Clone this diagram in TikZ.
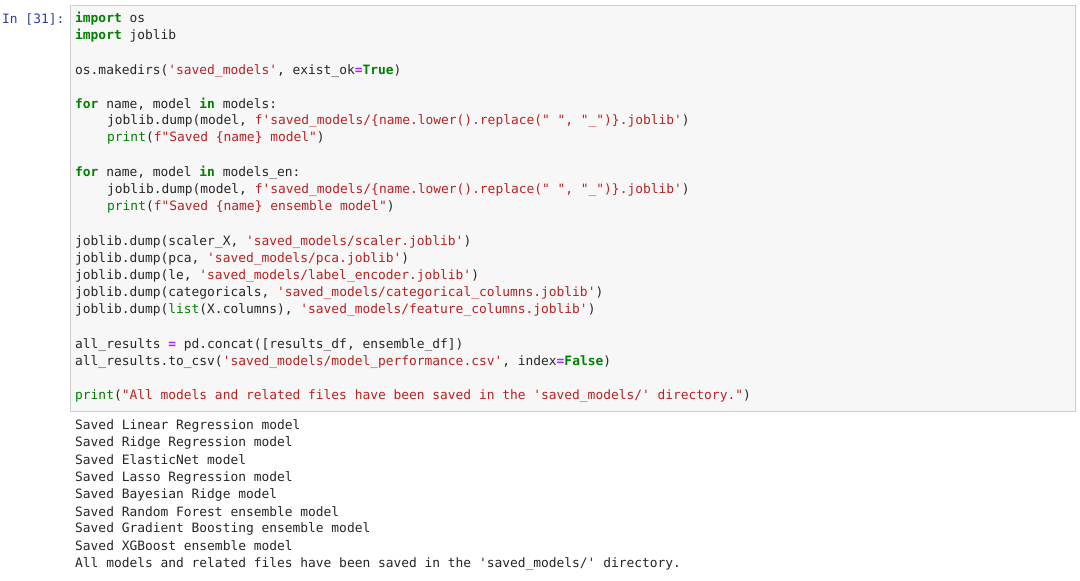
\documentclass[tikz,border=0pt]{standalone}
\usepackage{fontspec}
\setmonofont{DejaVu Sans Mono}
\definecolor{kw}{HTML}{008000}
\definecolor{st}{HTML}{BA2121}
\definecolor{op}{HTML}{AA22FF}
\definecolor{prm}{HTML}{303F9F}
\definecolor{cellbg}{HTML}{F7F7F7}
\definecolor{cellbd}{HTML}{CFCFCF}
\newcommand{\Kw}[1]{\textcolor{kw}{\bfseries #1}}
\newcommand{\Sx}[1]{\textcolor{st}{#1}}
\newcommand{\Op}[1]{\textcolor{op}{\bfseries #1}}
\newcommand{\Bi}[1]{\textcolor{kw}{#1}}
\tikzset{code/.style={anchor=west,inner sep=0pt,font=\ttfamily\fontsize{12.9}{17}\selectfont,text=black!85}}
\begin{document}
\begin{tikzpicture}[x=1pt,y=-1pt]
\useasboundingbox[fill=white] (0,0) rectangle (1080,581);
\node[draw=cellbd,fill=cellbg,minimum width=1005pt,minimum height=406pt,anchor=north west,inner sep=0pt] (cell) at (70,5) {};
\node[code,text=prm] (prompt) at (2,19) {In [31]:};
\node[code] (c1) at (75,19) {\Kw{import} os};
\node[code] (c2) at (75,36) {\Kw{import} joblib};
\node[code] (c3) at (75,71) {os.makedirs(\Sx{'saved\_models'}, exist\_ok\Op{=}\Kw{True})};
\node[code] (c4) at (75,104) {\Kw{for} name, model \Kw{in} models:};
\node[code] (c5) at (107,121) {joblib.dump(model, \Sx{f'saved\_models/\{name.lower().replace(" ", "\_")\}.joblib'})};
\node[code] (c6) at (107,138) {\Bi{print}(\Sx{f"Saved \{name\} model"})};
\node[code] (c7) at (75,173) {\Kw{for} name, model \Kw{in} models\_en:};
\node[code] (c8) at (107,190) {joblib.dump(model, \Sx{f'saved\_models/\{name.lower().replace(" ", "\_")\}.joblib'})};
\node[code] (c9) at (107,207) {\Bi{print}(\Sx{f"Saved \{name\} ensemble model"})};
\node[code] (c10) at (75,242) {joblib.dump(scaler\_X, \Sx{'saved\_models/scaler.joblib'})};
\node[code] (c11) at (75,259) {joblib.dump(pca, \Sx{'saved\_models/pca.joblib'})};
\node[code] (c12) at (75,276) {joblib.dump(le, \Sx{'saved\_models/label\_encoder.joblib'})};
\node[code] (c13) at (75,293) {joblib.dump(categoricals, \Sx{'saved\_models/categorical\_columns.joblib'})};
\node[code] (c14) at (75,310) {joblib.dump(\Bi{list}(X.columns), \Sx{'saved\_models/feature\_columns.joblib'})};
\node[code] (c15) at (75,345) {all\_results \Op{=} pd.concat([results\_df, ensemble\_df])};
\node[code] (c16) at (75,362) {all\_results.to\_csv(\Sx{'saved\_models/model\_performance.csv'}, index\Op{=}\Kw{False})};
\node[code] (c17) at (75,396) {\Bi{print}(\Sx{"All models and related files have been saved in the 'saved\_models/' directory."})};
\node[code] (o1) at (75,426) {Saved Linear Regression model};
\node[code] (o2) at (75,443) {Saved Ridge Regression model};
\node[code] (o3) at (75,460) {Saved ElasticNet model};
\node[code] (o4) at (75,478) {Saved Lasso Regression model};
\node[code] (o5) at (75,495) {Saved Bayesian Ridge model};
\node[code] (o6) at (75,512) {Saved Random Forest ensemble model};
\node[code] (o7) at (75,529) {Saved Gradient Boosting ensemble model};
\node[code] (o8) at (75,546) {Saved XGBoost ensemble model};
\node[code] (o9) at (75,564) {All models and related files have been saved in the 'saved\_models/' directory.};
\end{tikzpicture}
\end{document}
